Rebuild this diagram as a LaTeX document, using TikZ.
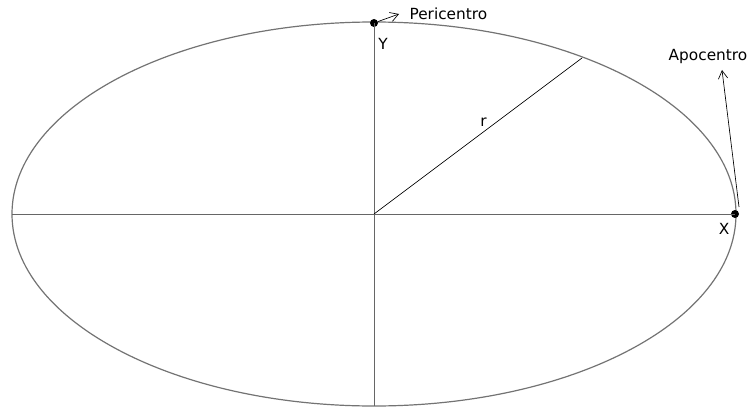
\documentclass[tikz,border=0pt]{standalone}
\usepackage{fontspec}
\setmainfont{DejaVu Sans}
\usetikzlibrary{arrows.meta}
\begin{document}
\begin{tikzpicture}[
  x=0.75pt, y=-0.75pt,
  orbit/.style={draw=black!55, line width=0.9pt},
  axis/.style={draw=black!60, line width=0.6pt},
  label/.style={font=\fontsize{11.5}{13}\selectfont, inner sep=1pt},
  pt/.style={circle, fill=black, inner sep=0pt, minimum size=6pt},
  pointer/.style={-{Straight Barb[length=6pt, width=7pt]}, line width=0.5pt}
]
\useasboundingbox (0,0) rectangle (749,410);

\coordinate (c) at (374,214);
\draw[orbit] (c) ellipse [x radius=362, y radius=192];

% axes
\coordinate (left) at (12,214);
\coordinate (bottom) at (374,406);
\node[pt] (x) at (735,214) {};
\node[pt] (y) at (374,23) {};
\draw[axis] (left) -- (x.center);
\draw[axis] (y.center) -- (bottom);

% radius
\coordinate (p) at (582,58);
\draw[line width=0.5pt] (c) -- (p) node[label, pos=0.55, above left] (r) {r};

% labels
\node[label] (ylab) at (383,44) {Y};
\node[label] (xlab) at (724,229) {X};
\node[label, anchor=west] (peri) at (408,14) {Pericentro};
\node[label] (apo) at (708,57) {Apocentro};

% pointers
\draw[pointer] (y) -- (399,14);
\draw[pointer] (739,207) -- (722,70);
\end{tikzpicture}
\end{document}
